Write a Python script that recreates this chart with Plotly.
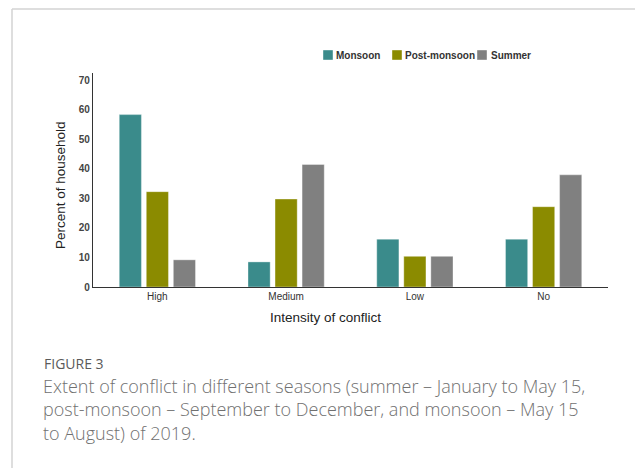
import plotly.graph_objects as go

categories = ["High", "Medium", "Low", "No"]
series_names = ["Monsoon", "Post-monsoon", "Summer"]
monsoon = [58.4, 8.5, 16.2, 16.2]
post_monsoon = [32.3, 29.8, 10.4, 27.2]
summer = [9.2, 41.5, 10.4, 38.0]
y_ticks = [0, 10, 20, 30, 40, 50, 60, 70]
colors = ["#3a8b8b", "#8b8b00", "#808080"]

# page body has an 8px margin, so the figure starts at (8, 8) of the window
OFF = 8
WIN_W, WIN_H = 643, 468
W, H = WIN_W - OFF, WIN_H - OFF
# plot area in window pixels
L, R, T, B = 93, 608, 73, 287


def px(x):
    return (x - L) / (R - L)


def py(y):
    return (B - y) / (B - T)


fig = go.Figure()
for name, vals, col in zip(series_names, [monsoon, post_monsoon, summer], colors):
    fig.add_trace(go.Bar(
        x=categories, y=vals, name=name, showlegend=False,
        marker=dict(color=col, line=dict(color="rgba(255,255,255,0.35)", width=1)),
    ))

fig.update_layout(
    width=W, height=H,
    margin=dict(l=L - OFF, r=WIN_W - R, t=T - OFF, b=WIN_H - B, pad=0),
    paper_bgcolor="white", plot_bgcolor="white",
    barmode="group", bargap=0.37, bargroupgap=0.18,
    font=dict(family="Liberation Sans, Arial", color="#222"),
    xaxis=dict(
        showline=True, linecolor="#333", linewidth=1.2, ticks="", showgrid=False,
        tickfont=dict(size=10, color="#333"),
    ),
    yaxis=dict(
        range=[0, 72.5], tickvals=y_ticks, showline=True, linecolor="#333", linewidth=1.2,
        ticks="", showgrid=False, zeroline=False,
        tickfont=dict(size=10, color="#444", weight="bold"),
    ),
)

# axis titles
fig.add_annotation(text="Intensity of conflict", xref="paper", yref="paper", x=px(325), y=py(317),
                   xanchor="center", yanchor="middle", showarrow=False,
                   font=dict(size=13.5, color="#222"))
fig.add_annotation(text="Percent of household", xref="paper", yref="paper", x=px(60), y=py(185),
                   xanchor="center", yanchor="middle", showarrow=False, textangle=-90,
                   font=dict(size=13.5, color="#222"))

# legend: colored squares with labels
legend_sq_x = [323, 392, 477]
legend_txt_x = [334, 403, 489]
for name, col, sx, tx in zip(series_names, colors, legend_sq_x, legend_txt_x):
    fig.add_shape(type="rect", xref="paper", yref="paper",
                  x0=px(sx), x1=px(sx + 10), y0=py(60), y1=py(50),
                  fillcolor=col, line=dict(color="rgba(255,255,255,0.4)", width=1))
    fig.add_annotation(text=name, xref="paper", yref="paper", x=px(tx), y=py(55),
                       xanchor="left", yanchor="middle", showarrow=False,
                       font=dict(size=10, color="#333", weight="bold"))

# figure frame (left and top lines)
fig.add_shape(type="line", xref="paper", yref="paper", x0=px(12), y0=py(470), x1=px(12), y1=py(9),
              line=dict(color="#d3d3d3", width=1.5))
fig.add_shape(type="line", xref="paper", yref="paper", x0=px(12), y0=py(9), x1=px(645), y1=py(9),
              line=dict(color="#d3d3d3", width=1.5))

fig.add_annotation(text="FIGURE 3", xref="paper", yref="paper", x=px(42), y=py(363),
                   xanchor="left", yanchor="middle", showarrow=False,
                   font=dict(family="Open Sans", size=14, color="#5a5a5a", weight=500))
caption = ("Extent of conflict in different seasons (summer – January to May 15,<br>"
           "post-monsoon – September to December, and monsoon – May 15<br>"
           "to August) of 2019.")
fig.add_annotation(text=caption, xref="paper", yref="paper", x=px(41), y=py(372),
                   xanchor="left", yanchor="top", align="left", showarrow=False,
                   font=dict(family="Open Sans", size=18, color="#707070", weight=300))

fig.write_html("out.html")
